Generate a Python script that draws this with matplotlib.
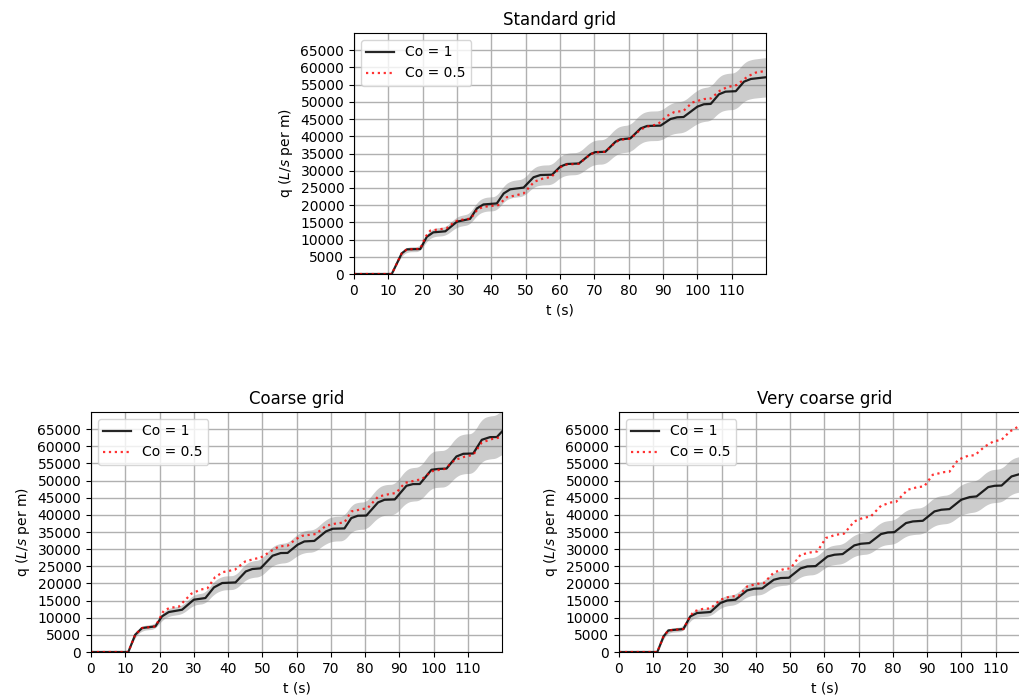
import numpy as np
import matplotlib
matplotlib.use("Agg")
import matplotlib.pyplot as plt

# ---------------- data (t [s], q [L/s per m]) ----------------
titles = ["Standard grid", "Coarse grid", "Very coarse grid"]
legend_labels = ["Co = 1", "Co = 0.5"]
xticks = list(range(0, 120, 10))
yticks = list(range(0, 70000, 5000))
band_frac = 0.10  # uncertainty band around the Co = 1 curve

std_co1 = [(0, 0), (11.0, 0), (13.9, 6000), (15.4, 7150), (19.3, 7250), (21.2, 10800),
           (23.1, 12100), (26.6, 12400), (30.0, 15200), (33.8, 16000), (35.8, 19050),
           (37.7, 20200), (41.6, 20500), (43.6, 23400), (45.5, 24600), (49.4, 25100),
           (52.3, 28100), (54.3, 28750), (57.7, 28850), (60.1, 31200), (62.0, 31950),
           (65.5, 32100), (68.9, 34850), (70.3, 35400), (73.2, 35500), (76.2, 38450),
           (77.6, 39100), (80.5, 39400), (83.5, 42300), (85.4, 43000), (89.3, 43100),
           (92.2, 45030), (94.1, 45500), (96.0, 45600), (100.0, 48600), (101.9, 49300),
           (103.9, 49400), (106.3, 52200), (108.2, 52960), (111.2, 53100), (113.6, 55870),
           (115.6, 56650), (120.0, 57150)]
std_co05 = [(0, 0), (11.0, 0), (13.9, 6000), (15.4, 7150), (19.3, 7300), (20.8, 10800),
            (22.2, 12600), (27.0, 13300), (29.5, 15300), (31.0, 15700), (34.0, 16100),
            (36.0, 18800), (37.7, 19500), (42.0, 20000), (44.5, 22300), (46.5, 22700),
            (49.4, 23400), (52.5, 26800), (55.2, 27800), (57.5, 28200), (60.1, 31000),
            (62.0, 31800), (65.5, 32000), (68.9, 34800), (70.3, 35300), (73.2, 35500),
            (76.2, 38300), (77.6, 39000), (80.5, 39300), (83.5, 42000), (85.4, 42800),
            (88.5, 43500), (91.0, 45800), (93.2, 47000), (96.0, 47400), (98.5, 49800),
            (101.9, 50800), (104.0, 51000), (106.5, 53200), (108.5, 54200), (111.5, 54900),
            (114.7, 57400), (117.0, 58500), (120.0, 59000)]

coarse_co1 = [(0, 0), (10.9, 0), (12.9, 5040), (14.9, 6990), (18.8, 7470), (20.7, 10380),
              (22.7, 11650), (26.6, 12330), (30.0, 15250), (33.4, 15740), (35.9, 18840),
              (38.3, 20120), (42.2, 20300), (45.2, 23500), (47.1, 24200), (49.5, 24400),
              (53.0, 28080), (55.4, 28860), (57.4, 28900), (60.3, 31280), (62.3, 32250),
              (65.2, 32400), (68.6, 35170), (70.6, 35950), (74.0, 36050), (76.0, 39060),
              (77.9, 39740), (80.4, 39800), (83.8, 43620), (85.7, 44400), (88.7, 44500),
              (92.1, 48480), (94.0, 48970), (96.0, 49000), (99.4, 53150), (101.4, 53400),
              (103.8, 53500), (106.7, 57030), (108.7, 57810), (111.6, 57900), (114.1, 61890),
              (116.5, 62670), (118.5, 62700), (120.0, 64300)]
coarse_co05 = [(0, 0), (10.9, 0), (12.9, 5040), (14.9, 6990), (18.8, 7470), (21.2, 12000),
               (23.0, 12900), (25.6, 13200), (29.3, 17000), (32.0, 18200), (34.0, 18600),
               (36.2, 21800), (38.5, 23300), (42.0, 24000), (45.0, 26400), (47.9, 27200),
               (49.5, 27500), (52.5, 29400), (54.9, 30800), (57.4, 31000), (59.8, 32900),
               (61.7, 33900), (65.6, 34400), (68.6, 36800), (71.1, 37400), (74.0, 37800),
               (76.0, 41000), (78.4, 41500), (80.8, 42000), (83.8, 45300), (86.8, 46000),
               (89.1, 46400), (91.6, 49300), (95.5, 50200), (96.5, 50300), (99.4, 52700),
               (103.3, 53400), (106.2, 56000), (109.2, 57000), (111.6, 57500), (114.1, 61100),
               (117.0, 62100), (120.0, 62700)]

vcoarse_co1 = [(0, 0), (11.2, 0), (13.0, 4550), (14.4, 6300), (18.8, 6700), (20.8, 10380),
               (22.8, 11370), (26.7, 11660), (29.6, 14280), (31.6, 15040), (34.0, 15250),
               (37.4, 17960), (39.4, 18450), (41.8, 18550), (45.2, 21080), (47.2, 21570),
               (49.6, 21660), (53.0, 24380), (55.0, 24960), (57.4, 25050), (60.9, 27870),
               (62.9, 28370), (65.3, 28560), (68.7, 31090), (70.6, 31570), (73.1, 31770),
               (76.5, 34400), (78.5, 34870), (80.4, 34950), (83.8, 37610), (85.8, 38080),
               (88.7, 38270), (92.1, 41000), (94.1, 41490), (96.5, 41680), (99.9, 44400),
               (102.4, 45190), (104.4, 45380), (107.8, 48100), (109.7, 48480), (111.7, 48550),
               (114.6, 51200), (117.0, 51890), (120.0, 52300)]
vcoarse_co05 = [(0, 0), (11.2, 0), (13.0, 4550), (14.4, 6300), (18.8, 6700), (20.5, 10000),
                (21.8, 11840), (24.3, 12540), (26.7, 12730), (29.6, 15250), (32.5, 16210),
                (34.9, 16300), (37.4, 19120), (40.4, 19900), (42.3, 20100), (45.2, 23210),
                (48.2, 24200), (50.1, 24400), (53.0, 28370), (55.9, 29040), (57.9, 29330),
                (60.4, 33240), (63.3, 34200), (65.7, 34500), (68.7, 38080), (71.1, 39060),
                (73.5, 39530), (76.5, 42650), (79.4, 43620), (80.9, 43800), (84.3, 47320),
                (87.2, 48100), (89.1, 48290), (91.6, 51690), (95.0, 52480), (96.5, 52600),
                (99.0, 56060), (101.9, 57230), (103.9, 57400), (106.8, 59940), (109.3, 61400),
                (111.7, 61890), (114.1, 64300), (116.6, 65760), (120.0, 67000)]

series = [(std_co1, std_co05), (coarse_co1, coarse_co05), (vcoarse_co1, vcoarse_co05)]

# ---------------- layout ----------------
W, H = 1020, 700
boxes = [(354, 33, 766, 274), (91, 412, 502, 652), (619, 412, 1030, 652)]  # px

fig = plt.figure(figsize=(W / 100, H / 100), dpi=100)


def smooth_band(t, q):
    tf = np.linspace(0, 120, 1201)
    qf = np.interp(tf, t, q)
    win = 25
    pad = np.pad(qf, win // 2, mode="edge")
    qs = np.convolve(pad, np.ones(win) / win, mode="valid")
    return tf, qs * (1 - band_frac), qs * (1 + band_frac)


for (x0, y0, x1, y1), title, (s1, s05) in zip(boxes, titles, series):
    ax = fig.add_axes([x0 / W, 1 - y1 / H, (x1 - x0) / W, (y1 - y0) / H])
    t1, q1 = np.array(s1).T
    t05, q05 = np.array(s05).T
    tf, lo, hi = smooth_band(t1, q1)
    ax.fill_between(tf, lo, hi, color="gray", alpha=0.4, linewidth=0)
    ax.plot(t1, q1, "-", color="black", alpha=0.85, lw=1.6, label=legend_labels[0])
    ax.plot(t05, q05, ":", color="red", alpha=0.8, lw=1.6, label=legend_labels[1])
    ax.set_xlim(0, 120)
    ax.set_ylim(0, 70000)
    ax.set_xticks(xticks)
    ax.set_yticks(yticks)
    ax.grid(True, color="#b0b0b0", lw=1.0)
    ax.set_axisbelow(True)
    ax.set_title(title)
    ax.set_xlabel("t (s)")
    ax.set_ylabel("q ($L/s$ per m)")
    ax.legend(loc="upper left")

fig.savefig("out.png", dpi=100)
